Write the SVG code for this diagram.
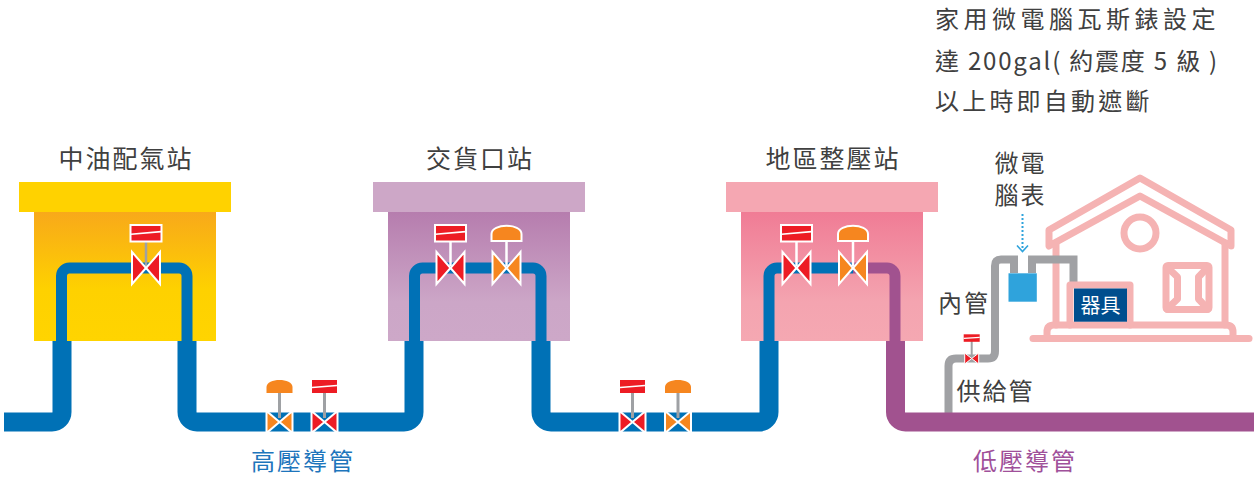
<svg xmlns="http://www.w3.org/2000/svg" xmlns:xlink="http://www.w3.org/1999/xlink" width="1254" height="478" viewBox="0 0 1254 478">
  <style>
    .lbl { font-family: "Noto Sans CJK TC", "Noto Sans", sans-serif; fill: #404040; }
    .st { font-size: 25px; letter-spacing: 2px; text-anchor: middle; }
    .sm { font-size: 24px; letter-spacing: 2px; text-anchor: middle; }
    .note { font-size: 24px; }
    .hp { stroke: #0071B6; fill: none; }
    .lp { stroke: #A1528F; fill: none; }
    .thick { stroke-width: 19; }
    .thin { stroke-width: 11; }
    .gas { stroke: #A0A1A4; stroke-width: 8; fill: none; }
    .house { stroke: #F5B3B3; stroke-width: 7; fill: none; stroke-linejoin: round; stroke-linecap: round; }
    .red { fill: #ED1C24; }
    .org { fill: #F6861F; }
    .wedge { stroke: #fff; stroke-width: 2; }
  </style>
  <defs>
    <linearGradient id="gYellow" x1="0" y1="0" x2="0" y2="1">
      <stop offset="0" stop-color="#F8A91A"/>
      <stop offset="0.6" stop-color="#FED100"/>
      <stop offset="1" stop-color="#FFD400"/>
    </linearGradient>
    <linearGradient id="gPurple" x1="0" y1="0" x2="0" y2="1">
      <stop offset="0" stop-color="#B67DAE"/>
      <stop offset="0.7" stop-color="#CCA6C7"/>
      <stop offset="1" stop-color="#CDA8C8"/>
    </linearGradient>
    <linearGradient id="gPink" x1="0" y1="0" x2="0" y2="1">
      <stop offset="0" stop-color="#F07C95"/>
      <stop offset="0.7" stop-color="#F4A4B0"/>
      <stop offset="1" stop-color="#F5A8B2"/>
    </linearGradient>

    <!-- station valve bodies (large) -->
    <path id="bodyL" d="M-14,-16 L0,0 L-14,16 Z M14,-16 L0,0 L14,16 Z"/>
    <!-- line valve bodies (small) -->
    <path id="bodyS" d="M-13,-11 L0,0 L-13,11 Z M13,-11 L0,0 L13,11 Z"/>

    <!-- manual valve, large, on a station -->
    <g id="manualL">
      <line x1="0" y1="-27" x2="0" y2="-2" stroke-width="2.5"/>
      <rect x="-15.5" y="-43" width="31" height="16.5" class="red" stroke="#fff" stroke-width="2"/>
      <line x1="-15" y1="-33.8" x2="15" y2="-36.4" stroke="#fff" stroke-width="1.6"/>
      <use xlink:href="#bodyL" class="red wedge"/>
    </g>
    <!-- regulator valve, large, on a station -->
    <g id="regL">
      <line x1="0" y1="-27" x2="0" y2="-2" stroke-width="2.5"/>
      <path d="M-15,-27 V-34 C-15,-45 15,-45 15,-34 V-27 Z" class="org" stroke="#fff" stroke-width="2"/>
      <use xlink:href="#bodyL" class="org wedge"/>
    </g>
    <!-- manual valve, small, on a main -->
    <g id="manualS">
      <line x1="0" y1="-29" x2="0" y2="-4" stroke="#9FA1A4" stroke-width="3"/>
      <rect x="-12.5" y="-42" width="25" height="13" class="red"/>
      <line x1="-12.5" y1="-34.6" x2="12.5" y2="-36.6" stroke="#fff" stroke-width="1.5"/>
      <use xlink:href="#bodyS" class="red wedge"/>
    </g>
    <!-- regulator valve, small, on a main -->
    <g id="regS">
      <line x1="0" y1="-29" x2="0" y2="-4" stroke="#9FA1A4" stroke-width="3"/>
      <path d="M-13,-29 V-35 C-13,-44.5 13,-44.5 13,-35 V-29 Z" class="org"/>
      <use xlink:href="#bodyS" class="org wedge"/>
    </g>
  </defs>

  <rect width="1254" height="478" fill="#fff"/>

  <!-- stations -->
  <g id="station-cpc">
    <rect x="19" y="182" width="212" height="30" fill="#FFD200"/>
    <rect x="34" y="212" width="182" height="129" fill="url(#gYellow)"/>
    <text class="lbl st" x="126" y="168">中油配氣站</text>
  </g>
  <g id="station-delivery">
    <rect x="373" y="182" width="212" height="30" fill="#CDA7C7"/>
    <rect x="388" y="212" width="182" height="129" fill="url(#gPurple)"/>
    <text class="lbl st" x="480" y="168">交貨口站</text>
  </g>
  <g id="station-regulator">
    <rect x="726" y="182" width="212" height="30" fill="#F5A7B2"/>
    <rect x="741" y="212" width="182" height="129" fill="url(#gPink)"/>
    <text class="lbl st" x="833" y="168">地區整壓站</text>
  </g>

  <!-- house -->
  <g id="house">
    <path class="house" d="M1049,230 L1140,178 L1231,230 V246 L1140,196 L1049,246 Z"/>
    <line class="house" x1="1056" y1="243" x2="1056" y2="325"/>
    <line class="house" x1="1225" y1="243" x2="1225" y2="325"/>
    <circle class="house" cx="1140" cy="233" r="16"/>
    <rect class="house" x="1166" y="265.5" width="43" height="44" rx="2"/>
    <path class="house" stroke-width="5" d="M1167,267 L1177.5,277 V299 L1167,309 M1208,267 L1198.5,277 V299 L1208,309"/>
    <path class="house" d="M1047,338 V332 Q1047,325 1054,325 H1226 Q1233,325 1233,332 V338"/>
    <line class="house" x1="1033" y1="338.5" x2="1249" y2="338.5"/>
  </g>

  <!-- pipes -->
  <g id="connectors">
    <!-- service line and house piping -->
    <path class="gas" d="M948.5,413 V366 Q948.5,358.5 956,358.5 H988 Q995,358.5 995,351 V266 Q995,259.5 1001,259.5 H1014 V273"/>
    <path class="gas" d="M1032,273 V259.5 H1073.5 V282"/>
    <!-- high pressure mains -->
    <path class="hp thick" d="M4,422 H52 A10,10 0 0 0 62,412 V341"/>
    <path class="hp thick" d="M187,341 V412 A10,10 0 0 0 197,422 H404 A10,10 0 0 0 414,412 V341"/>
    <path class="hp thick" d="M541,341 V412 A10,10 0 0 0 551,422 H759 A10,10 0 0 0 769,412 V341"/>
    <!-- station piping -->
    <path class="hp thin" d="M61.5,341 V276 A8,8 0 0 1 69.5,268 H179 A8,8 0 0 1 187,276 V341"/>
    <path class="hp thin" d="M414.5,341 V276 A8,8 0 0 1 422.5,268 H533 A8,8 0 0 1 541,276 V341"/>
    <path class="hp thin" d="M769,341 V276 A8,8 0 0 1 777,268 H853"/>
    <path class="lp thin" d="M853,268 H887 A8,8 0 0 1 895,276 V341"/>
    <!-- low pressure main -->
    <path class="lp thick" d="M895.5,341 V412 A10,10 0 0 0 905.5,422 H1254"/>
    <!-- meter reading pointer -->
    <line x1="1022.5" y1="214" x2="1022.5" y2="250" stroke="#2FA3DC" stroke-width="2" stroke-dasharray="2 2"/>
    <polyline points="1017,245.5 1022.5,251.5 1028,245.5" fill="none" stroke="#2FA3DC" stroke-width="1.6"/>
  </g>

  <!-- valves -->
  <g id="valves-cpc" stroke="#9FA1A4">
    <use xlink:href="#manualL" x="146" y="268"/>
  </g>
  <g id="valves-delivery" stroke="#fff">
    <use xlink:href="#manualL" x="450.5" y="268"/>
    <use xlink:href="#regL" x="506.5" y="268"/>
  </g>
  <g id="valves-regulator" stroke="#fff">
    <use xlink:href="#manualL" x="796.5" y="268"/>
    <use xlink:href="#regL" x="853" y="268"/>
  </g>
  <g id="valves-main">
    <use xlink:href="#regS" x="279.5" y="422"/>
    <use xlink:href="#manualS" x="324.5" y="422"/>
    <use xlink:href="#manualS" x="632.5" y="422"/>
    <use xlink:href="#regS" x="678" y="422"/>
  </g>
  <g id="valve-service">
    <line x1="971.7" y1="341" x2="971.7" y2="356" stroke="#9FA1A4" stroke-width="2"/>
    <rect x="963.7" y="334.3" width="16" height="7.5" class="red"/>
    <line x1="963.7" y1="338.4" x2="979.7" y2="337.4" stroke="#fff" stroke-width="1.2"/>
    <path d="M964.7,353 L971.7,358.5 L964.7,364 Z M978.7,353 L971.7,358.5 L978.7,364 Z" class="red" stroke="#fff" stroke-width="1"/>
  </g>

  <!-- gas meter -->
  <g id="meter">
    <rect x="1008.5" y="273.3" width="28.3" height="28.4" fill="#2FA3DC"/>
    <text class="lbl sm" x="1020.5" y="172">微電</text>
    <text class="lbl sm" x="1020.5" y="204">腦表</text>
  </g>

  <!-- appliance -->
  <g id="appliance">
    <path class="house" stroke-linecap="butt" d="M1070,325 V285 H1130 V325"/>
    <rect x="1074" y="288.5" width="53" height="33.2" fill="#004E8E"/>
    <text x="1100.5" y="313" font-family="Noto Sans CJK TC, sans-serif" font-size="20" fill="#fff" text-anchor="middle">器具</text>
  </g>

  <!-- pipe labels -->
  <g id="labels">
    <text class="lbl sm" x="964" y="312">內管</text>
    <text class="lbl sm" x="995.5" y="400">供給管</text>
    <text class="sm" x="303" y="470" font-family="Noto Sans CJK TC, sans-serif" fill="#1D75BC">高壓導管</text>
    <text class="sm" x="1025" y="470" font-family="Noto Sans CJK TC, sans-serif" fill="#A0509A">低壓導管</text>
  </g>

  <!-- meter note -->
  <g id="note">
    <text class="lbl note" x="935" y="28" letter-spacing="4.5">家用微電腦瓦斯錶設定</text>
    <text class="lbl note" x="935" y="70" letter-spacing="1.8">達 200gal( 約震度 5 級 )</text>
    <text class="lbl note" x="935" y="110" letter-spacing="3.2">以上時即自動遮斷</text>
  </g>
</svg>
